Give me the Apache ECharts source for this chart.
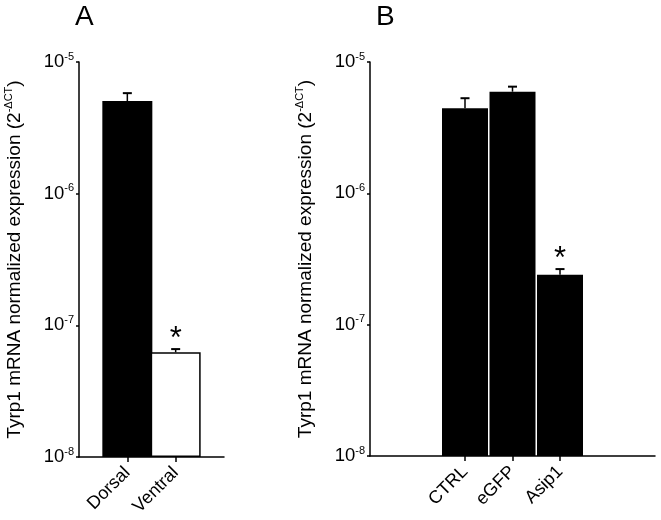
<!DOCTYPE html>
<html>
<head>
<meta charset="utf-8">
<script src="https://cdn.jsdelivr.net/npm/echarts@6/dist/echarts.min.js"></script>
<style>html,body{margin:0;padding:0;background:#fff;}#c{width:661px;height:520px;}</style>
</head>
<body>
<div id="c"></div>
<script>
// ---- data ----
var catsA = ['Dorsal', 'Ventral'];
var valsA = [5.05e-6, 6.24e-8];
var errA  = [5.8e-6, 6.6e-8];
var sigA  = [0, 1];
var colorsA = ['#000000', '#ffffff'];

var catsB = ['CTRL', 'eGFP', 'Asip1'];
var valsB = [4.45e-6, 5.94e-6, 2.4e-7];
var errB  = [5.3e-6, 6.49e-6, 2.65e-7];
var sigB  = [0, 0, 1];

var yMin = 1e-8, yMax = 1e-5;
var yName = 'Tyrp1 mRNA normalized expression (2{s|-ΔCT})';
var FONT = "'Liberation Sans', Arial, sans-serif";

// padded category axes (empty slots give spacing)
var padA = [''].concat(catsA).concat(['']);
var padB = ['', ''].concat(catsB).concat(['', '']);
var offA = 1, offB = 2;

function barData(vals, off, n, colors) {
  var d = [];
  for (var i = 0; i < n; i++) d.push('-');
  vals.forEach(function (v, i) {
    var c = colors ? colors[i] : '#000';
    d[i + off] = { value: v, itemStyle: { color: c, borderColor: '#000', borderWidth: c === '#ffffff' ? 1.5 : 0 } };
  });
  return d;
}
function errData(vals, errs, sigs, off) {
  return vals.map(function (v, i) { return [i + off, v, errs[i], sigs[i]]; });
}

function renderErr(params, api) {
  var x = api.value(0), v = api.value(1), e = api.value(2), s = api.value(3);
  var pv = api.coord([x, v]);
  var pe = api.coord([x, e]);
  var children = [
    { type: 'line', shape: { x1: pv[0], y1: pv[1], x2: pe[0], y2: pe[1] }, style: { stroke: '#000', lineWidth: 1.5 } },
    { type: 'line', shape: { x1: pe[0] - 4.5, y1: pe[1], x2: pe[0] + 4.5, y2: pe[1] }, style: { stroke: '#000', lineWidth: 2 } }
  ];
  if (s) {
    children.push({ type: 'text', style: { text: '*', x: pe[0], y: pe[1] - 10, align: 'center', verticalAlign: 'middle', font: '31px ' + FONT, fill: '#000' } });
  }
  return { type: 'group', children: children };
}

function yAxisCfg(gi) {
  return {
    type: 'log', logBase: 10, gridIndex: gi, min: yMin, max: yMax, startValue: yMin,
    name: yName, nameLocation: 'middle', nameGap: 52, nameRotate: 90,
    nameTextStyle: {
      color: '#000', fontFamily: FONT, fontSize: 19, lineHeight: 24,
      rich: { s: { fontSize: 11, fontFamily: FONT, color: '#000', verticalAlign: 'top', lineHeight: 12 } }
    },
    axisLine: { show: true, lineStyle: { color: '#000', width: 1.5 } },
    axisTick: { show: true, length: 3, lineStyle: { color: '#000', width: 1.5 } },
    minorTick: { show: false },
    splitLine: { show: false },
    axisLabel: {
      margin: 5, color: '#000',
      formatter: function (v) { return '{b|10}{e|' + Math.round(Math.log10(v)) + '}'; },
      rich: {
        b: { fontSize: 18.5, fontFamily: FONT, color: '#000', lineHeight: 22 },
        e: { fontSize: 11, fontFamily: FONT, color: '#000', verticalAlign: 'top', lineHeight: 12 }
      }
    }
  };
}
function xAxisCfg(gi, cats) {
  return {
    type: 'category', gridIndex: gi, data: cats, boundaryGap: false,
    axisLine: { show: true, onZero: false, lineStyle: { color: '#000', width: 1.5 } },
    axisTick: { show: true, length: 5, interval: function (i, v) { return v !== ''; }, lineStyle: { color: '#000', width: 1.5 } },
    axisLabel: { interval: 0, rotate: 45, fontSize: 18, fontFamily: FONT, color: '#000', margin: 13 },
    splitLine: { show: false }
  };
}

var chart = echarts.init(document.getElementById('c'), null, { renderer: 'canvas' });
chart.setOption({
  animation: false,
  backgroundColor: '#fff',
  title: [
    { text: 'A', left: 75, top: 3, padding: 0, textStyle: { fontSize: 28, fontWeight: 'normal', fontFamily: FONT, color: '#000' } },
    { text: 'B', left: 376, top: 3, padding: 0, textStyle: { fontSize: 28, fontWeight: 'normal', fontFamily: FONT, color: '#000' } }
  ],
  grid: [
    { left: 79, top: 62, width: 145, height: 395 },
    { left: 370, top: 62, width: 285, height: 394 }
  ],
  xAxis: [xAxisCfg(0, padA), xAxisCfg(1, padB)],
  yAxis: [yAxisCfg(0), yAxisCfg(1)],
  series: [
    { type: 'bar', xAxisIndex: 0, yAxisIndex: 0, barWidth: 50, data: barData(valsA, offA, padA.length, colorsA), z: 2 },
    { type: 'custom', xAxisIndex: 0, yAxisIndex: 0, renderItem: renderErr, data: errData(valsA, errA, sigA, offA), z: 3 },
    { type: 'bar', xAxisIndex: 1, yAxisIndex: 1, barWidth: 46, data: barData(valsB, offB, padB.length, null), z: 2 },
    { type: 'custom', xAxisIndex: 1, yAxisIndex: 1, renderItem: renderErr, data: errData(valsB, errB, sigB, offB), z: 3 }
  ]
});
</script>
</body>
</html>
